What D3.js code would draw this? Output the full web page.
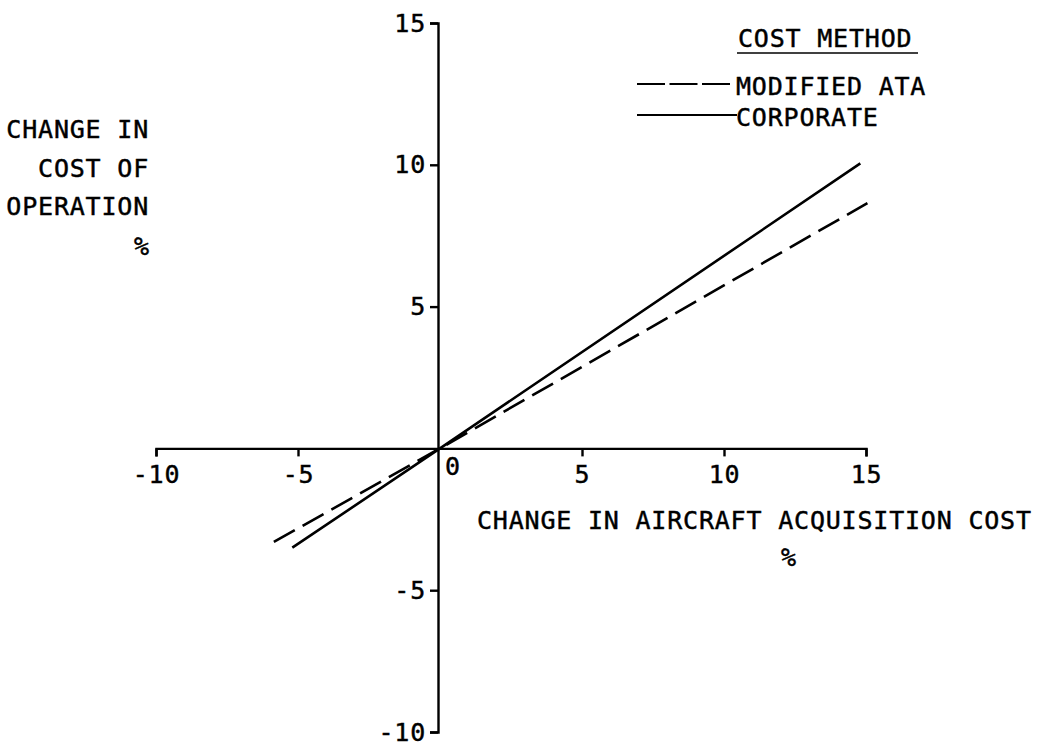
<!DOCTYPE html>
<html>
<head>
<meta charset="utf-8">
<script src="https://cdn.jsdelivr.net/npm/d3@7"></script>
<style>
  html, body { margin: 0; padding: 0; background: #fff; }
  svg { display: block; }
  text { font-family: "DejaVu Sans Mono", monospace; fill: #000; stroke: #000; stroke-width: 0.45px; }
</style>
</head>
<body>
<svg id="chart" width="1042" height="745"></svg>
<script>
// ---- data ----
const xTickValues = [-10, -5, 0, 5, 10, 15];
const xTickLabels = ["-10", "-5", "0", "5", "10", "15"];
const yTickValues = [-10, -5, 5, 10, 15];
const yTickLabels = ["-10", "-5", "5", "10", "15"];
const seriesNames = ["MODIFIED ATA", "CORPORATE"];
const modifiedAtaX = [-5.85, 0, 15.05];
const modifiedAtaY = [-3.3, 0, 8.65];
const corporateX = [-5.2, 0, 14.8];
const corporateY = [-3.5, 0, 10.05];
const xTitle = "CHANGE IN AIRCRAFT ACQUISITION COST";
const yTitleLines = ["CHANGE IN", "COST OF", "OPERATION", "%"];
const legendTitle = "COST METHOD";

// ---- layout ----
const svg = d3.select("#chart");
const x = d3.scaleLinear().domain([-10, 15]).range([156, 866]);
const y = d3.scaleLinear().domain([-10, 15]).range([732, 23]);
const FS = 25, LS = 0.8;
const sw = 2.4;

// X axis
const xAxis = d3.axisBottom(x)
  .tickValues(xTickValues.filter(v => v !== 0))
  .tickSize(8).tickSizeOuter(8).tickPadding(9)
  .tickFormat(v => xTickLabels[xTickValues.indexOf(v)]);
const gx = svg.append("g").attr("transform", `translate(0,${y(0)})`).call(xAxis);
gx.select(".domain").attr("stroke-width", sw).attr("fill", "none");
gx.selectAll(".tick line").attr("stroke-width", sw);
gx.selectAll(".tick text").attr("font-size", FS).style("letter-spacing", LS + "px")
  .attr("font-family", "DejaVu Sans Mono");
// zero label
svg.append("text")
  .attr("x", x(0) + 5).attr("y", y(0) + 27)
  .attr("font-size", FS)
  .text(xTickLabels[xTickValues.indexOf(0)]);

// Y axis
const yAxis = d3.axisLeft(y)
  .tickValues(yTickValues)
  .tickSize(8).tickSizeOuter(8).tickPadding(4)
  .tickFormat(v => yTickLabels[yTickValues.indexOf(v)]);
const gy = svg.append("g").attr("transform", `translate(${x(0) - 2},0)`).call(yAxis);
gy.select(".domain").attr("stroke-width", sw).attr("fill", "none");
gy.selectAll(".tick line").attr("stroke-width", sw);
gy.selectAll(".tick text").attr("font-size", FS).style("letter-spacing", LS + "px")
  .attr("font-family", "DejaVu Sans Mono");

// lines
const line = d3.line().x(d => x(d[0])).y(d => y(d[1]));
const ataPts = modifiedAtaX.map((v, i) => [v, modifiedAtaY[i]]);
const corpPts = corporateX.map((v, i) => [v, corporateY[i]]);
svg.append("path").datum(ataPts).attr("d", line)
  .attr("fill", "none").attr("stroke", "#000").attr("stroke-width", 2.6)
  .attr("stroke-dasharray", "24,9");
svg.append("path").datum(corpPts).attr("d", line)
  .attr("fill", "none").attr("stroke", "#000").attr("stroke-width", 2.6);

// x title
svg.append("text").attr("x", 477).attr("y", 529)
  .attr("font-size", FS).style("letter-spacing", LS + "px").text(xTitle);
svg.append("text").attr("x", 781).attr("y", 566)
  .attr("font-size", FS).text("%");

// y title
const yBase = [138, 177, 215, 255];
yTitleLines.forEach((t, i) => {
  svg.append("text")
    .attr("x", 149)
    .attr("y", yBase[i])
    .attr("text-anchor", "end")
    .attr("font-size", FS)
    .style("letter-spacing", (i === 3 ? 0 : LS) + "px")
    .text(t);
});

// legend
svg.append("text").attr("x", 738).attr("y", 47)
  .attr("font-size", FS).style("letter-spacing", LS + "px").text(legendTitle);
svg.append("line").attr("x1", 737).attr("x2", 918).attr("y1", 53).attr("y2", 53)
  .attr("stroke", "#000").attr("stroke-width", 1.6);
const legY = [84, 115];
svg.append("line").attr("x1", 637).attr("x2", 730).attr("y1", legY[0]).attr("y2", legY[0])
  .attr("stroke", "#000").attr("stroke-width", 2).attr("stroke-dasharray", "28,4.5");
svg.append("line").attr("x1", 637).attr("x2", 737).attr("y1", legY[1]).attr("y2", legY[1])
  .attr("stroke", "#000").attr("stroke-width", 2);
seriesNames.forEach((s, i) => {
  svg.append("text").attr("x", 736).attr("y", legY[i] + 11)
    .attr("font-size", FS).style("letter-spacing", LS + "px").text(s);
});
</script>
</body>
</html>
